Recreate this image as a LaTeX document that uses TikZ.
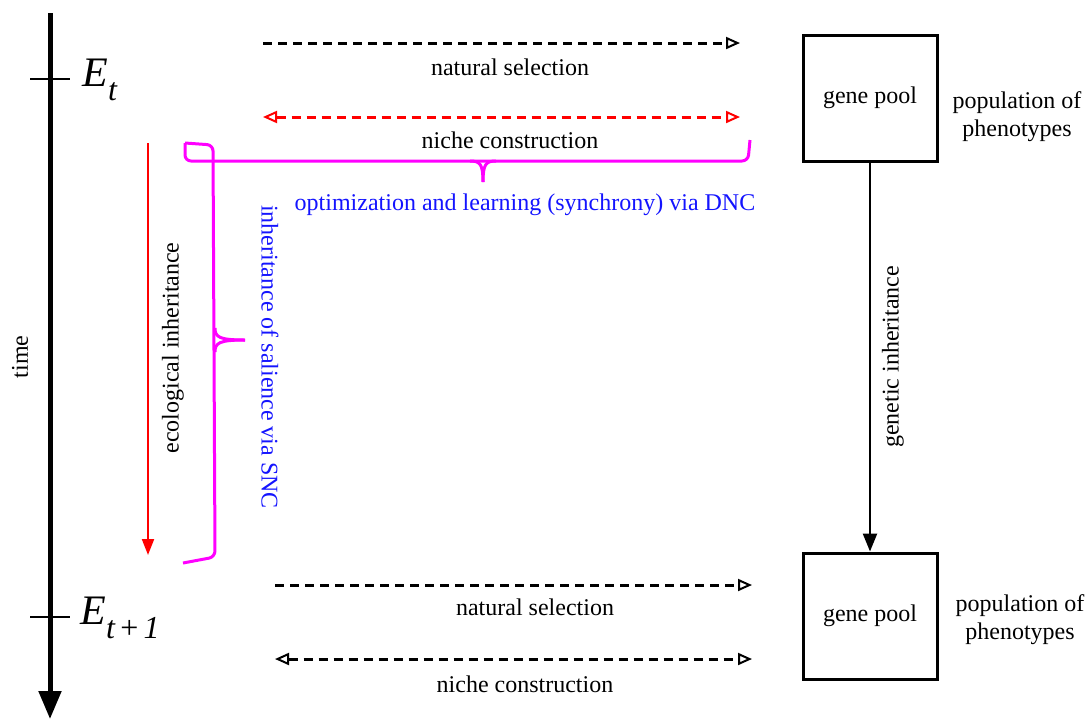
\documentclass[tikz,border=0pt]{standalone}
\usepackage{fontspec}
\setmainfont{Liberation Serif}
\usetikzlibrary{arrows.meta,positioning}

\definecolor{nicheRed}{RGB}{255,0,0}
\definecolor{braceMag}{RGB}{255,0,255}
\definecolor{noteBlue}{RGB}{20,20,255}

\tikzset{
  lbl/.style={font=\fontsize{12}{14}\selectfont, inner sep=1pt},
  bluelbl/.style={lbl, text=noteBlue},
  poolbox/.style={draw, line width=1.5pt, minimum width=67pt, minimum height=63pt, lbl},
  openhead/.tip={Triangle[open,length=7pt,width=6pt,line width=1pt]},
  dasharrow/.style={line width=1.5pt, dash pattern=on 4.5pt off 3pt, -openhead},
  dashboth/.style={dasharrow, openhead-openhead},
  brace/.style={draw=braceMag, line width=1.5pt, rounded corners=3pt},
  tick/.style={line width=0.8pt},
  epoch/.style={font=\fontsize{21}{24}\selectfont\itshape, inner sep=0pt, anchor=west}
}

\begin{document}
\begin{tikzpicture}[x=0.5pt,y=0.5pt,yscale=-1,xscale=1]
\useasboundingbox (0,0) rectangle (1087,719);

%Time axis
\coordinate (timeTop) at (50,13);
\coordinate (timeEnd) at (50,719);
\draw [line width=2.5pt, -{Triangle[length=14pt,width=11pt]}] (timeTop) -- (timeEnd);
\node [lbl, rotate=90] (timeLbl) at (20,357) {time};

%Epoch ticks
\coordinate (tickA1) at (30,79); \coordinate (tickA2) at (70,79);
\coordinate (tickB1) at (30,617); \coordinate (tickB2) at (70,617);
\draw [tick] (tickA1) -- (tickA2);
\draw [tick] (tickB1) -- (tickB2);
\node [epoch] (epochA) at (82,80) {E\raisebox{-7pt}{\fontsize{16}{18}\selectfont t}};
\node [epoch] (epochB) at (80,618) {E\raisebox{-7pt}{\fontsize{16}{18}\selectfont t\,{\upshape+}\,1}};

%Gene pools
\node [poolbox] (poolA) at (870,98) {gene pool};
\node [poolbox] (poolB) at (870,616) {gene pool};
\node [lbl, align=center] (phenoA) at (1017,117) {population of\\phenotypes};
\node [lbl, align=center] (phenoB) at (1020,620) {population of\\phenotypes};

%Genetic inheritance
\draw [line width=1.2pt, -{Triangle[length=9pt,width=7pt]}] (poolA) -- (poolB);
\node [lbl, rotate=90] (genLbl) at (893,357) {genetic inheritance};

%Upper generation
\coordinate (selA1) at (263,43); \coordinate (selA2) at (740,43);
\coordinate (nicA1) at (263,117); \coordinate (nicA2) at (740,117);
\draw [dasharrow] (selA1) -- (selA2);
\draw [dashboth, nicheRed] (nicA1) -- (nicA2);
\node [lbl] (selALbl) at (510,67) {natural selection};
\node [lbl] (nicALbl) at (510,140) {niche construction};

%Lower generation
\coordinate (selB1) at (275,585); \coordinate (selB2) at (752,585);
\coordinate (nicB1) at (275,659); \coordinate (nicB2) at (752,659);
\draw [dasharrow] (selB1) -- (selB2);
\draw [dashboth] (nicB1) -- (nicB2);
\node [lbl] (selBLbl) at (535,607) {natural selection};
\node [lbl] (nicBLbl) at (525,684) {niche construction};

%Ecological inheritance
\coordinate (ecoTop) at (148,143);
\coordinate (ecoEnd) at (148,555);
\draw [nicheRed, line width=1pt, -{Triangle[length=8pt,width=6pt]}] (ecoTop) -- (ecoEnd);
\node [lbl, rotate=90] (ecoLbl) at (173,348) {ecological inheritance};

%Shape: Brace (horizontal)
\draw [brace] (185,143) -- (185,161) -- (748,161) -- (750,140);
\draw [draw=braceMag, line width=1.5pt] (470,161) .. controls (480,161) and (483,164) .. (483,182);
\draw [draw=braceMag, line width=1.5pt] (496,161) .. controls (486,161) and (483,164) .. (483,182);
\node [bluelbl] (dncLbl) at (525,205) {optimization and learning (synchrony) via DNC};

%Shape: Brace (vertical)
\draw [brace] (185,143) -- (213,145) -- (215,557) -- (183,563);
\draw [draw=braceMag, line width=1.5pt] (215,328) .. controls (215,337) and (219,340) .. (245,340);
\draw [draw=braceMag, line width=1.5pt] (215,352) .. controls (215,343) and (219,340) .. (245,340);
\node [bluelbl, rotate=-90] (sncLbl) at (270,357) {inheritance of salience via SNC};

\end{tikzpicture}
\end{document}
